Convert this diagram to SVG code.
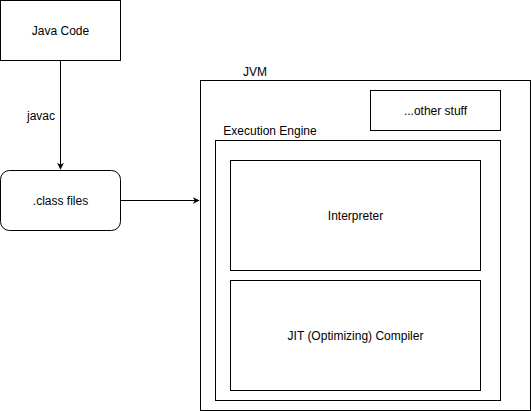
<svg xmlns="http://www.w3.org/2000/svg" width="531" height="411" viewBox="0 0 531 411">
<defs>
<style>
rect{fill:#fff;stroke:#000;stroke-width:1}
text{font-family:"Liberation Sans",Arial,Helvetica,sans-serif;font-size:12px;fill:#000;text-anchor:middle;dominant-baseline:central}
.edge{fill:none;stroke:#000;stroke-width:1}
</style>
<marker id="arr" viewBox="0 0 10 10" refX="9" refY="5" markerWidth="7" markerHeight="7" markerUnits="userSpaceOnUse" orient="auto">
<path d="M0,0 L10,5 L0,10 L3,5 Z" fill="#000"/>
</marker>
</defs>
<rect x="0" y="0" width="531" height="411" style="stroke:none;fill:#fff"/>
<g id="java-code"><rect x="0.5" y="0.5" width="120" height="60"/><text x="60.5" y="31">Java Code</text></g>
<g id="class-files"><rect x="0.5" y="170.5" width="120" height="60" rx="9" ry="9"/><text x="60.5" y="201">.class files</text></g>
<g id="jvm"><rect x="200.5" y="80.5" width="330" height="330"/><text x="255" y="72">JVM</text></g>
<g id="other-stuff"><rect x="370.5" y="90.5" width="130" height="40"/><text x="435.5" y="111">...other stuff</text></g>
<g id="execution-engine"><rect x="215.5" y="140.5" width="285" height="260"/><text x="270" y="131">Execution Engine</text></g>
<g id="interpreter"><rect x="230.5" y="160.5" width="250" height="110"/><text x="355.5" y="216">Interpreter</text></g>
<g id="jit"><rect x="230.5" y="280.5" width="250" height="110"/><text x="355.5" y="336">JIT (Optimizing) Compiler</text></g>
<g id="connectors">
<path class="edge" d="M60.5,60.5 L60.5,169" marker-end="url(#arr)"/>
<text x="41" y="116">javac</text>
<path class="edge" d="M120.5,200.5 L199,200.5" marker-end="url(#arr)"/>
</g>
</svg>
